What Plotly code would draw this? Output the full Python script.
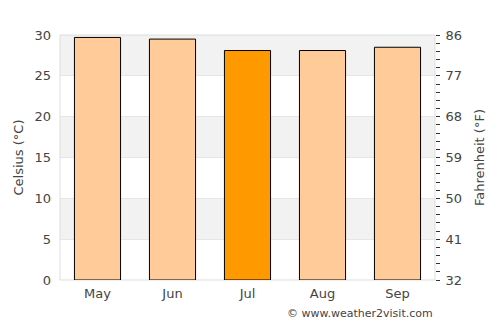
import plotly.graph_objects as go

months = ["May", "Jun", "Jul", "Aug", "Sep"]
celsius = [29.7, 29.5, 28.1, 28.1, 28.5]
bar_colors = ["#ffcc99", "#ffcc99", "#ff9900", "#ffcc99", "#ffcc99"]
c_ticks = [0, 5, 10, 15, 20, 25, 30]
f_ticks = [32, 41, 50, 59, 68, 77, 86]

font = "DejaVu Sans"
txt = "#444444"

fig = go.Figure()
fig.add_trace(go.Bar(x=months, y=celsius, marker=dict(color=bar_colors, line=dict(color="black", width=1)),
                     hoverinfo="skip"))
fig.add_trace(go.Scatter(x=months, y=[c * 9 / 5 + 32 for c in celsius], yaxis="y2",
                         mode="markers", marker=dict(opacity=0), showlegend=False, hoverinfo="skip"))

shapes = []
for lo in [5, 15, 25]:
    shapes.append(dict(type="rect", xref="paper", yref="y", x0=0, x1=1, y0=lo, y1=lo + 5,
                       fillcolor="#f2f2f2", line=dict(width=0), layer="below"))
shapes.append(dict(type="rect", xref="paper", yref="paper", x0=0, x1=1, y0=0, y1=1,
                   line=dict(color="#dddddd", width=1), fillcolor="rgba(0,0,0,0)", layer="below"))

fig.update_layout(
    width=500, height=325,
    margin=dict(l=60, r=65, t=35, b=45),
    paper_bgcolor="white", plot_bgcolor="white",
    showlegend=False, bargap=0.385,
    font=dict(family=font, size=13, color=txt),
    shapes=shapes,
    xaxis=dict(showgrid=False, ticks="", tickfont=dict(size=13, color=txt), ticklabelstandoff=4),
    yaxis=dict(range=[0, 30], tickvals=c_ticks, showgrid=True, gridcolor="#e6e6e6", zeroline=False,
               title=dict(text="Celsius (°C)", font=dict(size=13, color=txt), standoff=7),
               ticks="", ticklabelstandoff=8, tickfont=dict(size=13, color=txt)),
    yaxis2=dict(range=[32, 86], tickvals=f_ticks, overlaying="y", side="right", showgrid=False,
                zeroline=False, ticks="outside", ticklen=4, tickcolor="#333333",
                minor=dict(ticks="outside", ticklen=4, tick0=32, dtick=1.8, tickcolor="#333333"),
                title=dict(text="Fahrenheit (°F)", font=dict(size=13, color=txt), standoff=13),
                tickfont=dict(size=13, color=txt), ticklabelstandoff=3),
    annotations=[dict(text="© www.weather2visit.com", xref="paper", yref="paper", x=1, y=-0.1,
                      xanchor="right", yanchor="top", showarrow=False,
                      font=dict(size=11, color=txt))],
)

fig.write_html("out.html")
